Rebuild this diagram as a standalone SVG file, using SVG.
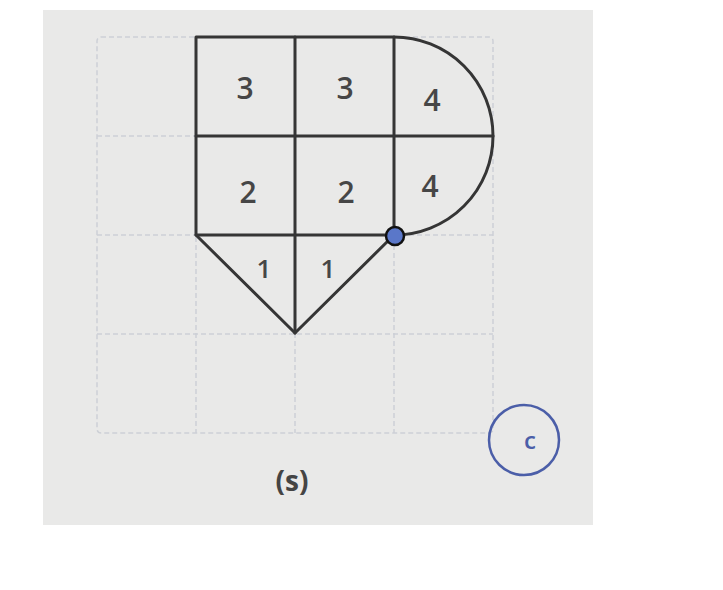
<svg xmlns="http://www.w3.org/2000/svg" width="723" height="590" viewBox="0 0 723 590">
<style>
.grid{fill:none;stroke:#cdd0d6;stroke-width:1.5;stroke-dasharray:5 3}
.edge{fill:none;stroke:#353535;stroke-width:3;stroke-linejoin:round;stroke-linecap:round}
.num{font-family:"Open Sans","Liberation Sans",sans-serif;font-size:30px;font-weight:600;fill:#464646;text-anchor:middle}
.sm{font-size:26px}
</style>
<rect x="0" y="0" width="723" height="590" fill="#ffffff"/>
<rect x="43" y="10" width="550" height="515" fill="#e9e9e8"/>
<g id="grid">
<rect class="grid" x="97" y="37" width="396" height="396" rx="4"/>
<path class="grid" d="M196 37V433M295 37V433M394 37V433M97 136H493M97 235H493M97 334H493"/>
</g>
<g id="connectors">
<path class="edge" d="M196 37H394A99 99 0 0 1 394 235H196Z"/>
<path class="edge" d="M295 37V333M394 37V235M196 136H493"/>
<path class="edge" d="M196 235L295 333L394 235"/>
</g>
<g id="labels">
<text class="num" x="245" y="99">3</text>
<text class="num" x="345" y="99">3</text>
<text class="num" x="432" y="111">4</text>
<text class="num" x="248" y="203">2</text>
<text class="num" x="346" y="203">2</text>
<text class="num" x="430" y="197">4</text>
<text class="num sm" x="264" y="278">1</text>
<text class="num sm" x="328" y="278">1</text>
</g>
<g id="point">
<circle cx="395" cy="236" r="9" fill="#5a77c9" stroke="#111" stroke-width="2.5"/>
</g>
<g id="badge">
<circle cx="524" cy="440" r="35" fill="none" stroke="#4b5ea8" stroke-width="2.5"/>
<text x="530" y="449" font-family="Open Sans,Liberation Sans,sans-serif" font-size="24" font-weight="600" fill="#4b5ea8" text-anchor="middle">c</text>
</g>
<g id="caption">
<text x="292" y="491" font-family="Open Sans,Liberation Sans,sans-serif" font-size="28" font-weight="bold" fill="#444" text-anchor="middle">(s)</text>
</g>
</svg>
